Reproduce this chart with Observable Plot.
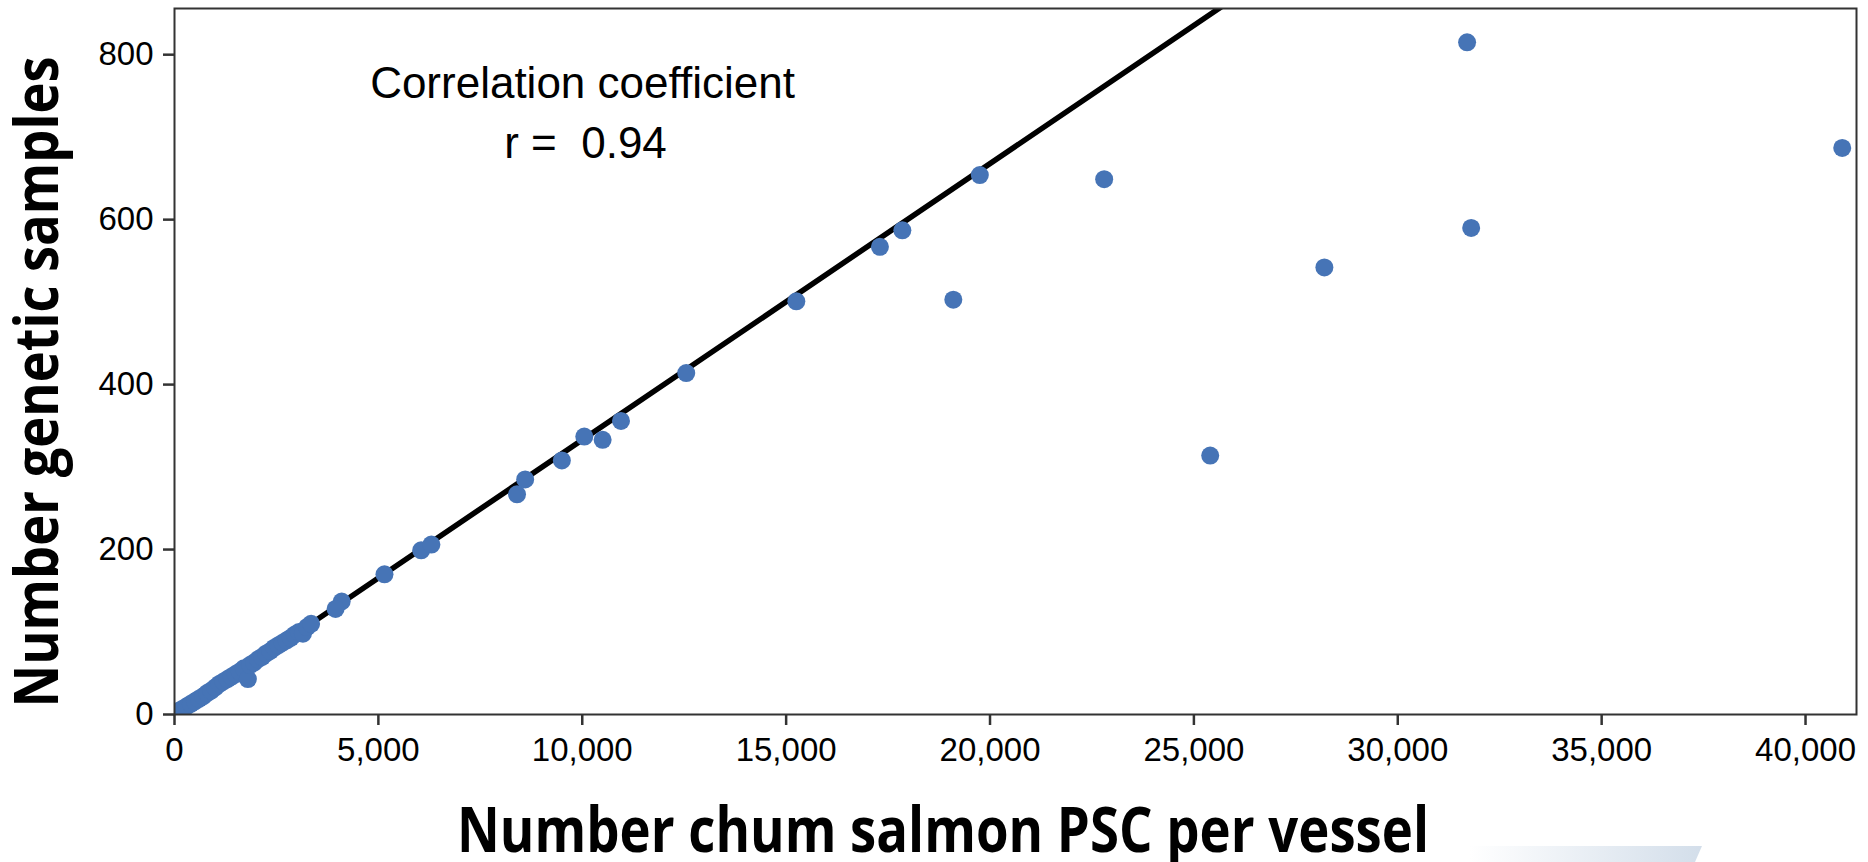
<!DOCTYPE html>
<html><head><meta charset="utf-8">
<script src="https://cdn.jsdelivr.net/npm/d3@7"></script>
<script src="https://cdn.jsdelivr.net/npm/@observablehq/plot@0.6"></script>
<style>
body{margin:0;background:#fff;}
#wrap{position:relative;width:1868px;height:862px;overflow:hidden;background:#fff;}
#wrap svg text{white-space:pre;}
#deco{position:absolute;left:1470px;top:846px;width:232px;height:16px;background:linear-gradient(to right, rgba(214,224,234,0), #d3deea);clip-path:polygon(0 0,100% 0,97% 100%,0 100%);}
</style></head><body><div id="wrap"><div id="deco"></div></div>
<script>
// chum salmon PSC per vessel (x) and number of genetic samples (y)
const pscX = [31700, 40900, 19750, 22800, 31800, 17850, 17300, 28200, 15250, 19100,
  12550, 25400, 10950, 10050, 10500, 9500, 8600, 8400, 5150, 6050, 6300, 4100, 3950,
  100, 200, 300, 400, 500, 600, 700, 800, 900, 1000, 1100, 1200, 1300, 1400, 1500,
  1600, 1700, 1800, 1850, 1950, 2050, 2150, 2250, 2350, 2450, 2550, 2650, 2750,
  2850, 2950, 3050, 3150, 3250, 3350];
const samplesY = [815, 687, 654, 649, 590, 587, 567, 542, 501, 503,
  414, 314, 356, 337, 333, 308, 285, 267, 170, 199, 206, 137, 128,
  4, 7, 10, 13, 16, 19, 22, 26, 29, 33, 37, 40, 43, 46, 49,
  52, 56, 43, 60, 63, 67, 70, 74, 77, 81, 84, 87, 90,
  93, 97, 100, 98, 106, 110];
// fitted line end points
const fitX = [0, 26000];
const fitY = [-2, 869];
const xTicks = [0, 5000, 10000, 15000, 20000, 25000, 30000, 35000, 40000];
const yTicks = [0, 200, 400, 600, 800];
const noteLines = ["Correlation coefficient", "r =  0.94"];
const xTitle = "Number chum salmon PSC per vessel";
const yTitle = "Number genetic samples";

const pts = pscX.map((x, i) => ({x, y: samplesY[i]}));
const fit = fitX.map((x, i) => ({x, y: fitY[i]}));

const chart = Plot.plot({
  width: 1868, height: 862,
  marginLeft: 174, marginRight: 12, marginTop: 8, marginBottom: 148,
  style: {fontFamily: "'Liberation Sans', Arial, sans-serif", fontSize: "33px", color: "#000", background: "transparent", overflow: "visible"},
  x: {domain: [0, 41250]},
  y: {domain: [0, 856]},
  marks: [
    Plot.line(fit, {x: "x", y: "y", stroke: "#000", strokeWidth: 5.5, clip: true}),
    Plot.dot(pts, {x: "x", y: "y", r: 9, fill: "#4674b6", stroke: "none", clip: true}),
    Plot.frame({stroke: "#333", strokeWidth: 2}),
    Plot.axisX({ticks: xTicks, tickFormat: d3.format(","), tickSize: 11, tickPadding: 12, strokeWidth: 2.5, stroke: "#333", fill: "#000", label: null, fontSize: 33}),
    Plot.axisY({ticks: yTicks, tickSize: 11, tickPadding: 10, strokeWidth: 2.5, stroke: "#333", fill: "#000", label: null, fontSize: 33}),
    Plot.text(noteLines.slice(0, 1), {frameAnchor: "top-left", text: d => d, dx: 408, dy: 58, fontSize: 44, textAnchor: "middle", fill: "#000"}),
    Plot.text(noteLines.slice(1), {frameAnchor: "top-left", text: d => d, dx: 411, dy: 118, fontSize: 44, textAnchor: "middle", fill: "#000"})
  ]
});

const svg = d3.select(chart);
svg.append("text")
  .attr("x", 943).attr("y", 852)
  .attr("text-anchor", "middle")
  .attr("textLength", 972).attr("lengthAdjust", "spacingAndGlyphs")
  .style("font-family", "'Open Sans', sans-serif").style("font-weight", 700).style("font-size", "62px")
  .attr("fill", "#000")
  .text(xTitle);
svg.append("text")
  .attr("transform", "translate(58,382) rotate(-90)")
  .attr("text-anchor", "middle")
  .attr("textLength", 651).attr("lengthAdjust", "spacingAndGlyphs")
  .style("font-family", "'Open Sans', sans-serif").style("font-weight", 700).style("font-size", "60px")
  .attr("fill", "#000")
  .text(yTitle);

document.getElementById("wrap").prepend(chart);
chart.style.position = "absolute";
chart.style.left = "0";
chart.style.top = "0";
</script>
</body></html>
